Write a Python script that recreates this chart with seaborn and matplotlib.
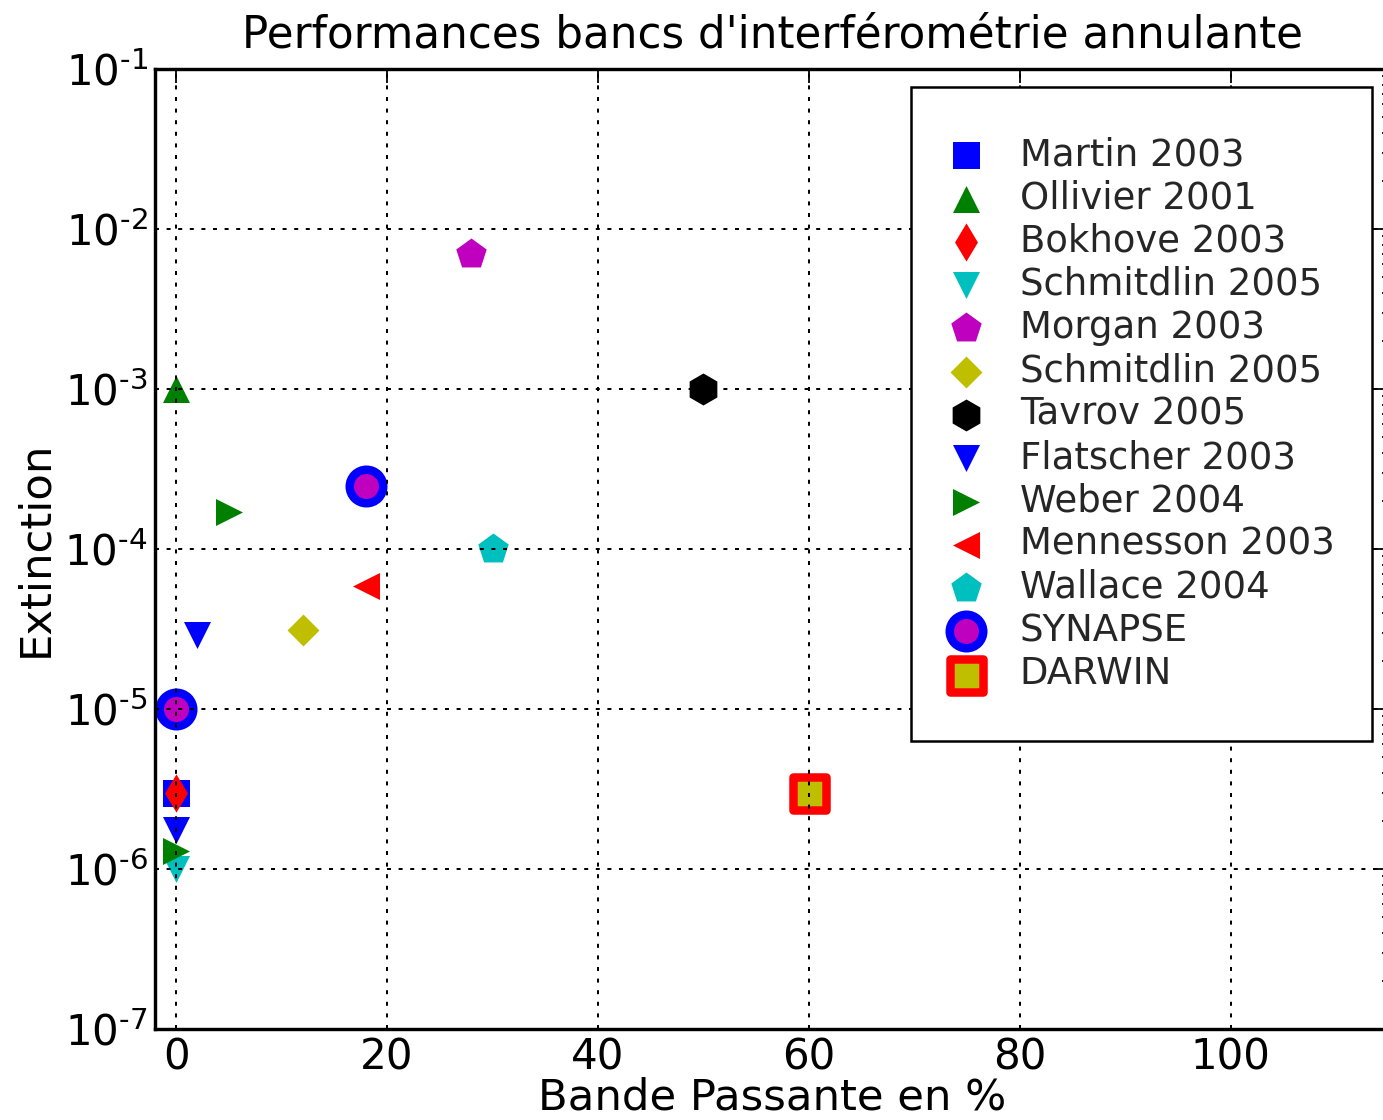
import math
import matplotlib
matplotlib.use("Agg")
import matplotlib.pyplot as plt
import seaborn as sns
from matplotlib.path import Path
from matplotlib.ticker import LogLocator, FixedLocator, NullFormatter, FuncFormatter

# ---------------- data ----------------
series_labels = ["Martin 2003", "Ollivier 2001", "Bokhove 2003", "Schmitdlin 2005",
                 "Morgan 2003", "Schmitdlin 2005", "Tavrov 2005", "Flatscher 2003",
                 "Weber 2004", "Mennesson 2003", "Wallace 2004", "SYNAPSE", "DARWIN"]
bandwidth_pct = [[0], [0], [0], [0], [28], [12], [50], [2, 0], [5, 0], [18], [30], [0, 18], [60]]
extinction = [[3e-6], [1e-3], [3e-6], [1e-6], [7e-3], [3.1e-5], [1e-3],
              [2.9e-5, 1.75e-6], [1.7e-4, 1.3e-6], [5.9e-5], [1e-4], [1e-5, 2.47e-4], [3e-6]]
x_ticks = [0, 20, 40, 60, 80, 100, 120]
title_text = "Performances bancs d'interférométrie annulante"
x_label = "Bande Passante en %"
y_label = "Extinction"

# ---------------- styles ----------------
marker_styles = ["s", "^", "d", "v", "p", "D", "h", "v", ">", "<", "p", "o", "s"]
face_colors = ["#0000ff", "#008000", "#ff0000", "#00bfbf", "#bf00bf", "#bfbf00", "#000000",
               "#0000ff", "#008000", "#ff0000", "#00bfbf", "#bf00bf", "#bfbf00"]
edge_colors = face_colors[:11] + ["#0000ff", "#ff0000"]
marker_px = [27, 27, 27, 27, 32, 22.6, 32, 27, 27, 27, 32, 33.5, 33]
edge_px = [0] * 11 + [8.5, 8.5]

sns.set_style("white")
plt.rcParams["font.family"] = ["DejaVu Sans"]
plt.rcParams["mathtext.fontset"] = "dejavusans"
plt.rcParams["axes.unicode_minus"] = False

W, H = 1383, 1120
fig = plt.figure(figsize=(W / 72, H / 72), dpi=72)
fig.patch.set_facecolor("white")
ax_left, ax_right, ax_top, ax_bottom = 155, 1389, 69, 1029
ax = fig.add_axes([ax_left / W, 1 - ax_bottom / H, (ax_right - ax_left) / W, (ax_bottom - ax_top) / H])

for lab, xs, ys, mk, fc, ec, ms, ew in zip(series_labels, bandwidth_pct, extinction, marker_styles,
                                           face_colors, edge_colors, marker_px, edge_px):
    sns.scatterplot(x=xs, y=ys, ax=ax, marker=mk, s=ms ** 2, color=fc,
                    edgecolor=ec, linewidth=ew, label=lab, legend=False, zorder=2)

ax.set_yscale("log")
ax.set_xlim(-2, 115)
ax.set_ylim(1e-7, 1e-1)
ax.xaxis.set_major_locator(FixedLocator(x_ticks))
ax.yaxis.set_major_locator(LogLocator(base=10, numticks=20))
ax.yaxis.set_minor_locator(LogLocator(base=10, subs=range(2, 10), numticks=20))
ax.yaxis.set_minor_formatter(NullFormatter())


def log_fmt(v, pos):
    e = int(round(math.log10(v)))
    if e < 0:
        return r"$\mathdefault{10^{\text{-}%d}}$" % (-e)
    return r"$\mathdefault{10^{%d}}$" % e


ax.yaxis.set_major_formatter(FuncFormatter(log_fmt))

ax.set_axisbelow(False)
ax.grid(True, which="major", color="black", linestyle=(0, (2.0, 3.8)), linewidth=2.0)
ax.grid(False, which="minor")

for sp in ax.spines.values():
    sp.set_linewidth(3.4)
    sp.set_color("black")

ax.tick_params(which="both", direction="in", top=True, right=True, color="black",
               labelcolor="black", width=1.8)
ax.tick_params(which="major", length=14, pad=7, labelsize=42)
ax.tick_params(which="minor", length=7)

ax.set_title(title_text, fontsize=43.6, pad=22, color="black")
ax.set_xlabel(x_label, fontsize=43.4, labelpad=-2, color="black")
ax.set_ylabel(y_label, fontsize=43.4, labelpad=8, color="black")

# legend: frame reaches a little further above and below the entries than at the sides
extra_v = 12


def legend_frame(x0, y0, width, height, mutation_size):
    return Path.unit_rectangle().transformed(
        matplotlib.transforms.Affine2D().scale(width, height + 2 * extra_v).translate(x0, y0 - extra_v))


handles, labels = ax.get_legend_handles_labels()
leg = ax.legend(handles, labels, loc="upper left",
                bbox_to_anchor=(911 / W, 1 - (87 + extra_v) / H), bbox_transform=fig.transFigure,
                borderaxespad=0, fontsize=37, scatterpoints=1, frameon=True, fancybox=False,
                edgecolor="black", framealpha=1, borderpad=1.0, labelspacing=0.17,
                handlelength=0.97, handletextpad=0.97)
leg.legendPatch.set_boxstyle(legend_frame)
leg.get_frame().set_linewidth(2.5)
leg.set_zorder(5)

fig.savefig("out.png", dpi=72, facecolor="white")
